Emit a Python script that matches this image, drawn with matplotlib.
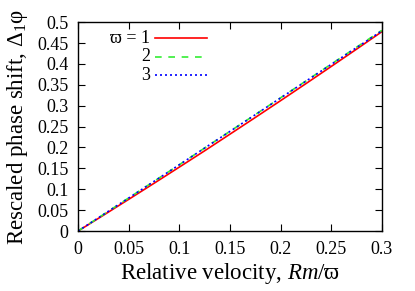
import numpy as np
import matplotlib.pyplot as plt

plt.rcParams['font.family'] = ['Liberation Serif', 'DejaVu Serif']
plt.rcParams['mathtext.fontset'] = 'custom'
plt.rcParams['mathtext.rm'] = 'Liberation Serif'
plt.rcParams['mathtext.it'] = 'Liberation Serif:italic'

# relative velocity Rm/varpi
vel = [0, 0.025, 0.05, 0.075, 0.1, 0.125, 0.15, 0.175, 0.2, 0.225, 0.25, 0.275, 0.3]
# rescaled phase shift for varpi = 1, 2, 3
shift1 = [0, 0.0377, 0.0758, 0.1142, 0.153, 0.192, 0.2318, 0.2717, 0.312, 0.3527, 0.3938, 0.4352, 0.477]
shift2 = [0, 0.0395, 0.0792, 0.1189, 0.1587, 0.1986, 0.2386, 0.2786, 0.3188, 0.3590, 0.3994, 0.4398, 0.4803]
shift3 = [0, 0.0395, 0.0790, 0.1188, 0.1586, 0.1985, 0.2384, 0.2783, 0.3184, 0.3585, 0.3987, 0.4389, 0.4790]

legend_labels = ["\u03d6 = 1", "2", "3"]

fig = plt.figure(figsize=(4.15, 2.91), dpi=100)
ax = fig.add_axes([0.188, 0.206, 0.732, 0.718])

ax.plot(vel, shift1, color='#ff0000', lw=1.2)
ax.plot(vel, shift2, color='#33ee33', lw=1.2, dashes=(4, 4))
ax.plot(vel, shift3, color='#0000ff', lw=1.2, dashes=(1.2, 1.8))

ax.set_xlim(0, 0.3)
ax.set_ylim(0, 0.5)
ax.set_xticks(np.arange(0, 0.31, 0.05))
ax.set_yticks(np.arange(0, 0.51, 0.05))
ax.set_xticklabels(['0', '0.05', '0.1', '0.15', '0.2', '0.25', '0.3'])
ax.set_yticklabels(['0', '0.05', '0.1', '0.15', '0.2', '0.25', '0.3', '0.35', '0.4', '0.45', '0.5'])
ax.tick_params(direction='in', top=True, right=True, length=5, width=0.8, labelsize=13)
ax.tick_params(axis='x', pad=7)
ax.tick_params(axis='y', pad=7)
for s in ax.spines.values():
    s.set_linewidth(1.0)

ax.set_xlabel("Relative velocity, $\\mathit{Rm}$/\u03d6", fontsize=16.5, labelpad=2)
ax.set_ylabel("Rescaled phase shift, \u0394$_1$\u03c6", fontsize=16.5, labelpad=5)

# key, gnuplot style: text right aligned, sample to the right
styles = [dict(color='#ff0000'), dict(color='#33ee33', dashes=(4, 4)), dict(color='#0000ff', dashes=(1.2, 1.8))]
for i, (lab, st) in enumerate(zip(legend_labels, styles)):
    yk = 0.923 - i * 0.0885
    ax.text(0.237, yk, lab, transform=ax.transAxes, ha='right', va='center', fontsize=13)
    ax.plot([0.253, 0.425], [yk, yk], transform=ax.transAxes, lw=1.2, **st)

fig.savefig("out.png", dpi=100)
